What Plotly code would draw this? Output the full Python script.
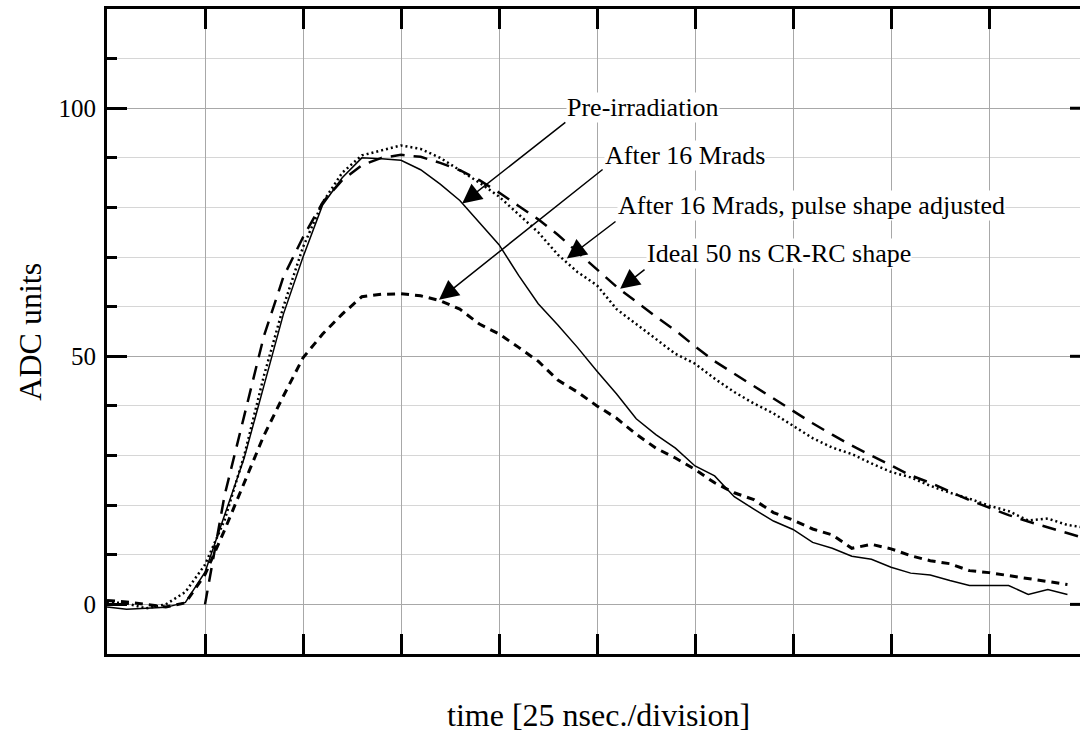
import plotly.graph_objects as go

# time axis in ns (25 ns per division)
t_ns = [0, 5, 10, 15, 20, 25, 30, 35, 40, 45, 50, 55, 60, 65, 70, 75, 80, 85, 90, 95,
        100, 105, 110, 115, 120, 125, 130, 135, 140, 145, 150, 155, 160, 165, 170, 175,
        180, 185, 190, 195, 200, 205, 210, 215, 220, 225, 230, 235, 240, 245, 250]

pre_irradiation = [-0.5, -1.0, -0.8, -0.6, 0.4, 6.5, 18, 29.5, 44, 58.5, 70, 80.5, 86, 90,
                   89.8, 89.5, 87.6, 84.7, 81.4, 77, 72.5, 66.3, 60.6, 56.3, 51.8, 47, 42.4,
                   37.4, 34.2, 31.5, 27.9, 25.9, 21.7, 19.2, 16.8, 15.1, 12.5, 11.3, 9.7, 9.1,
                   7.5, 6.3, 5.9, 4.8, 3.8, 3.8, 3.8, 2.0, 3.0, 2.0]

after_16_mrads = [0.8, 0.5, 0.0, -0.5, 0.3, 6, 15, 24.5, 34, 42, 49.7, 54.5, 58.5, 62, 62.5,
                  62.6, 62.2, 61.2, 59.5, 56.5, 54.5, 51.8, 49, 45.2, 42.8, 40, 37.5, 34.3,
                  31.5, 29.5, 27.2, 24.5, 22.5, 21.1, 18.5, 17, 15.2, 14, 11.3, 12.1, 11.2,
                  9.8, 8.8, 8.2, 6.8, 6.4, 5.8, 5.2, 4.6, 4.0]

after_16_adjusted = [0.5, 0.2, -0.8, 0.0, 2.5, 8, 17, 30, 46, 60, 72, 81, 87, 90.5, 91.5,
                     92.5, 91.8, 90, 87.5, 85, 82.2, 78.5, 75, 70.5, 67, 64.3, 59.5, 56.5,
                     53.5, 50.5, 48.5, 45.5, 42.8, 40.5, 38.5, 36, 33.5, 31.6, 30.3, 28.4,
                     26.7, 25.6, 23.9, 22.5, 21.3, 19.9, 18.8, 16.9, 17.3, 16.0, 15.4]

ideal_crrc = [0, 22, 38, 54, 66, 74, 81, 85.5, 88.5, 90, 90.6, 90.2, 89, 87.5, 85.5, 83,
              80.3, 77.6, 74.5, 71, 67.5, 64, 61, 58, 55.2, 52, 49, 46.5, 44, 41.4, 39,
              36.5, 34.2, 32, 30, 28, 26, 24.5, 22.8, 21, 19.5, 18, 16.7, 15.5, 14.3, 13.2]

series = [
    ("Pre-irradiation", t_ns[:50], pre_irradiation, "solid", 1.5),
    ("After 16 Mrads", t_ns[:50], after_16_mrads, "8px,6px", 3),
    ("After 16 Mrads, pulse shape adjusted", t_ns, after_16_adjusted, "2px,3px", 2.5),
    ("Ideal 50 ns CR-RC shape", t_ns[5:], ideal_crrc, "14px,9px", 2.5),
]

# label text, text anchor (x, y), arrow tail (x, y), arrow head (x, y) in data units
labels = [
    ("Pre-irradiation", (117.1, 100.2), (117.3, 97.4), (90.6, 80.8)),
    ("After 16 Mrads", (126.8, 90.5), (126.8, 87.9), (84.7, 61.4)),
    ("After 16 Mrads, pulse shape adjusted", (130.1, 80.4), (130.1, 77.4), (117.3, 69.7)),
    ("Ideal 50 ns CR-RC shape", (137.5, 70.7), (137.5, 67.7), (130.9, 63.6)),
]

y_major = [0, 50, 100]

FONT = "Liberation Serif, Times New Roman, serif"

fig = go.Figure()
for name, xs, ys, dash, w in series:
    fig.add_trace(go.Scatter(x=xs, y=ys, mode="lines", name=name,
                             line=dict(color="black", width=w, dash=dash)))

annotations = []
for text, (tx, ty), (ax, ay), (hx, hy) in labels:
    annotations.append(dict(x=tx, y=ty, xref="x", yref="y", text=text, showarrow=False,
                            xanchor="left", yanchor="middle", bgcolor="white", borderpad=0,
                            font=dict(family=FONT, size=26, color="black")))
    annotations.append(dict(x=hx, y=hy, ax=ax, ay=ay, xref="x", yref="y", axref="x", ayref="y",
                            text="", showarrow=True, arrowhead=2, arrowsize=2.6,
                            arrowwidth=1.5, arrowcolor="black", standoff=0, startstandoff=0))

annotations.append(dict(x=-0.08, y=0.5, xref="paper", yref="paper", text="ADC units",
                        textangle=-90, showarrow=False, xanchor="center", yanchor="middle",
                        font=dict(family=FONT, size=32, color="black")))
annotations.append(dict(x=0.505, y=-0.094, xref="paper", yref="paper",
                        text="time [25 nsec./division]", showarrow=False,
                        xanchor="center", yanchor="middle",
                        font=dict(family=FONT, size=32, color="black")))

shapes = []
for v in y_major:
    shapes.append(dict(type="line", xref="paper", yref="y", x0=1 - 10 / 973, x1=1.0,
                       y0=v, y1=v, line=dict(color="black", width=3)))

fig.update_layout(
    width=1080, height=754,
    margin=dict(l=107, r=0, t=9, b=100),
    paper_bgcolor="white", plot_bgcolor="white",
    showlegend=False,
    font=dict(family=FONT, size=25, color="black"),
    annotations=annotations,
    shapes=shapes,
)

fig.update_xaxes(range=[0, 248.2], dtick=25, tick0=0, showticklabels=False,
                 ticks="inside", ticklen=20, tickwidth=3, tickcolor="black",
                 showline=True, linewidth=3, linecolor="black", mirror="ticks",
                 showgrid=True, gridcolor="#a8a8a8", gridwidth=1, zeroline=False)

fig.update_yaxes(range=[-10, 120], tickvals=y_major, ticktext=[str(v) for v in y_major],
                 ticks="inside", ticklen=20, tickwidth=3, tickcolor="black",
                 ticklabelstandoff=3,
                 showline=True, linewidth=3, linecolor="black", mirror=False,
                 showgrid=True, gridcolor="#a8a8a8", gridwidth=1, zeroline=False,
                 tickfont=dict(family=FONT, size=25, color="black"),
                 minor=dict(dtick=10, tick0=0, ticks="inside", ticklen=10, tickwidth=3,
                            tickcolor="black", showgrid=True, gridcolor="#d6d6d6",
                            gridwidth=1))

fig.write_html("out.html")
